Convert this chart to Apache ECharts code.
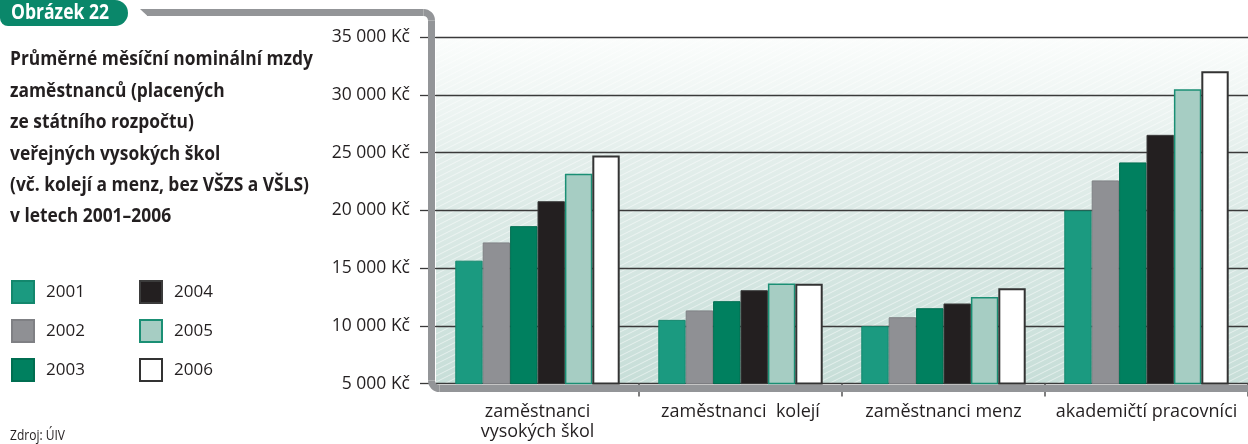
<!DOCTYPE html>
<html lang="cs">
<head>
<meta charset="utf-8">
<title>Průměrné měsíční nominální mzdy</title>
<script src="https://cdn.jsdelivr.net/npm/echarts@6/dist/echarts.min.js"></script>
<style>
  html, body { margin: 0; padding: 0; background: #fff; }
  #chart { width: 1248px; height: 444px; }
</style>
</head>
<body>
<div id="chart"></div>
<script>
// Average monthly nominal wages at public universities, 2001–2006 (Kč)
const categories = ['zaměstnanci\nvysokých škol', 'zaměstnanci  kolejí', 'zaměstnanci menz', 'akademičtí pracovníci'];
const years = ['2001', '2002', '2003', '2004', '2005', '2006'];
const wages2001 = [15650, 10520, 9970, 20000];
const wages2002 = [17230, 11340, 10750, 22600];
const wages2003 = [18640, 12140, 11530, 24160];
const wages2004 = [20800, 13090, 11940, 26550];
const wages2005 = [23170, 13680, 12510, 30490];
const wages2006 = [24770, 13650, 13270, 32050];
const yTicks = [5000, 10000, 15000, 20000, 25000, 30000, 35000];
const currency = 'Kč';

const titleLines = [
  'Průměrné měsíční nominální mzdy',
  'zaměstnanců (placených',
  'ze státního rozpočtu)',
  'veřejných vysokých škol',
  '(vč. kolejí a menz, bez VŠZS a VŠLS)',
  'v letech 2001–2006'
];
const figureLabel = 'Obrázek 22';
const sourceNote = 'Zdroj: ÚIV';

const seriesValues = [wages2001, wages2002, wages2003, wages2004, wages2005, wages2006];
const seriesStyles = [
  { color: '#1b9a80', borderColor: '#13876d', borderWidth: 1 },
  { color: '#8f9094', borderColor: '#7f8084', borderWidth: 1 },
  { color: '#00805f', borderColor: '#006e51', borderWidth: 1 },
  { color: '#231f20', borderColor: '#3b3b3b', borderWidth: 1 },
  { color: '#a6cdc3', borderColor: '#1a8f74', borderWidth: 1.5 },
  { color: '#ffffff', borderColor: '#333333', borderWidth: 2 }
];

const fmtKc = v => String(v).replace(/\B(?=(\d{3})+(?!\d))/g, ' ') + ' ' + currency;

// horizontal squeeze that makes a text run fill the given width (condensed look)
const measureCtx = document.createElement('canvas').getContext('2d');
function squeeze(text, font, width) {
  measureCtx.font = font;
  return width / measureCtx.measureText(text).width;
}

// diagonal hatching tile used over the plot background
function hatchTile() {
  const W = 24, H = 12;
  const c = document.createElement('canvas');
  c.width = W; c.height = H;
  const g = c.getContext('2d');
  g.strokeStyle = 'rgba(255,255,255,0.5)';
  g.lineWidth = 1;
  for (let k = -2 * H; k <= 3 * H; k += 6) {
    g.beginPath();
    g.moveTo(0, k);
    g.lineTo(W, k - W / 2);
    g.stroke();
  }
  return c;
}

const GRID = { left: 436, top: 37.3, right: -2.5, bottom: 60.4 };
const FONT = '"Open Sans", sans-serif';
const FRAME = '#939598';
const INK = '#231f20';

const TITLE_FONT = 'bold 20px "Open Sans", sans-serif';
const TAB_FONT = 'bold 21px "Open Sans", sans-serif';
const NOTE_FONT = '14px "Open Sans", sans-serif';
const titleScale = squeeze(titleLines[0], TITLE_FONT, 303);
const tabScale = squeeze(figureLabel, TAB_FONT, 98);
const noteScale = squeeze(sourceNote, NOTE_FONT, 55);

const chart = echarts.init(document.getElementById('chart'), null, { renderer: 'canvas' });

const frameLine = pts => ({
  type: 'polyline', z: 10, silent: true,
  shape: { points: pts },
  style: { fill: null, stroke: FRAME, lineWidth: 7, lineCap: 'butt' }
});
const frameCorner = (cx, cy, a0, a1) => ({
  type: 'arc', z: 10, silent: true,
  shape: { cx: cx, cy: cy, r: 8, startAngle: a0, endAngle: a1, clockwise: true },
  style: { fill: null, stroke: FRAME, lineWidth: 7, lineCap: 'butt' }
});

const legendCommon = {
  orient: 'vertical', top: 280, padding: 0,
  itemWidth: 22, itemHeight: 22, itemGap: 15, icon: 'rect',
  textStyle: { fontSize: 17, color: INK, fontFamily: FONT, padding: [0, 0, 0, 7] },
  selectedMode: false
};

chart.setOption({
  animation: false,
  backgroundColor: '#ffffff',
  textStyle: { fontFamily: FONT },
  grid: GRID,
  legend: [
    Object.assign({ data: years.slice(0, 3), left: 11 }, legendCommon),
    Object.assign({ data: years.slice(3), left: 139 }, legendCommon)
  ],
  xAxis: {
    type: 'category',
    data: categories,
    axisLine: { show: false },
    axisTick: {
      show: true, length: 13, interval: idx => idx !== 0,
      lineStyle: { color: '#555', width: 1.5 }
    },
    axisLabel: { color: INK, fontSize: 18, lineHeight: 20, margin: 18, interval: 0 }
  },
  yAxis: {
    type: 'value',
    min: yTicks[0], max: yTicks[yTicks.length - 1], interval: 5000,
    axisLine: { show: false },
    axisTick: { show: true, length: 16, lineStyle: { color: '#3a3a3a', width: 1.3 } },
    axisLabel: { color: INK, fontSize: 17.5, margin: 26, formatter: fmtKc },
    splitLine: { lineStyle: { color: '#3a3a3a', width: 1.3 } }
  },
  series: years.map((y, i) => ({
    name: y,
    type: 'bar',
    data: seriesValues[i],
    barGap: '0%',
    barCategoryGap: '19%',
    itemStyle: seriesStyles[i],
    z: 3
  })),
  graphic: [
    // plot background: soft teal gradient with light hatching
    {
      type: 'rect', z: -10, silent: true,
      shape: { x: 436, y: 38, width: 820, height: 346 },
      style: {
        fill: new echarts.graphic.LinearGradient(0, 0, 0, 1, [
          { offset: 0, color: '#fbfdfc' },
          { offset: 0.35, color: '#e3eeeb' },
          { offset: 1, color: '#c7ded8' }
        ])
      }
    },
    {
      type: 'rect', z: -9, silent: true,
      shape: { x: 436, y: 38, width: 820, height: 346 },
      style: { fill: { image: hatchTile(), repeat: 'repeat' } }
    },
    // grey frame around the plot
    frameLine([[147, 12.5], [423.5, 12.5]]),
    frameCorner(423.5, 20.5, -Math.PI / 2, 0),
    frameLine([[431.5, 20.5], [431.5, 380.5]]),
    frameCorner(439.5, 380.5, Math.PI / 2, Math.PI),
    frameLine([[439.5, 388.5], [1260, 388.5]]),
    {
      type: 'polygon', z: 10, silent: true,
      shape: { points: [[140, 9], [147.5, 9], [147.5, 16]] },
      style: { fill: FRAME }
    },
    // figure tab
    {
      type: 'rect', z: 10, silent: true,
      shape: { x: 0, y: 0, width: 128, height: 26, r: [0, 13, 13, 8] },
      style: { fill: '#0a876a' }
    },
    {
      type: 'text', z: 11, x: 11, y: 13, scaleX: tabScale,
      style: { text: figureLabel, fill: '#ffffff', font: TAB_FONT, verticalAlign: 'middle' }
    },
    // chart title
    {
      type: 'text', z: 11, x: 10, y: 44, scaleX: titleScale,
      style: { text: titleLines.join('\n'), fill: INK, font: TITLE_FONT, lineHeight: 31.4 }
    },
    // source note
    {
      type: 'text', z: 11, x: 10, y: 436, scaleX: noteScale,
      style: { text: sourceNote, fill: INK, font: NOTE_FONT, verticalAlign: 'middle' }
    }
  ]
});
</script>
</body>
</html>
